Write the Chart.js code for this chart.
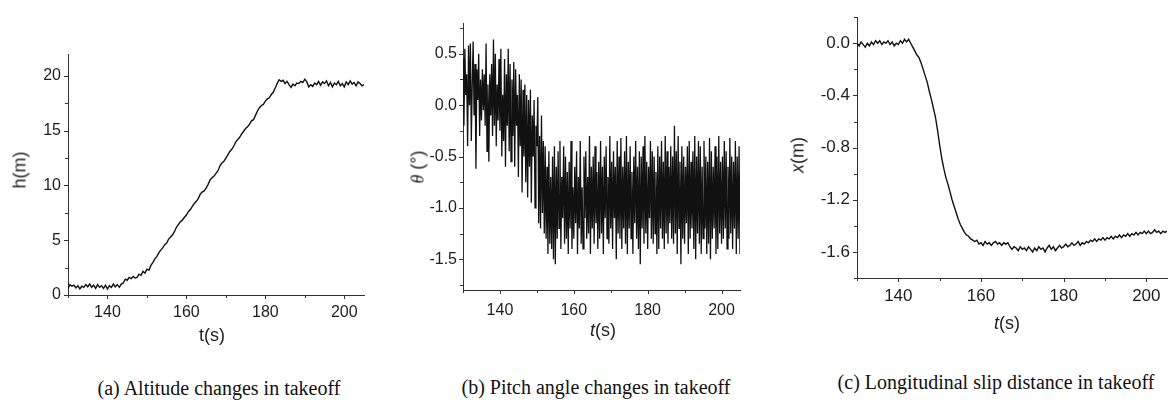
<!DOCTYPE html>
<html>
<head>
<meta charset="utf-8">
<script src="https://cdn.jsdelivr.net/npm/chart.js@4.4.1/dist/chart.umd.min.js"></script>
<style>
  html, body { margin: 0; padding: 0; background: #ffffff; width: 1175px; height: 400px; overflow: hidden; }
  canvas { position: absolute; top: 0; }
  .lbl { position: absolute; white-space: nowrap; color: #1e1e1e; font-family: "Liberation Sans", Arial, sans-serif; font-size: 18px; transform: translate(-50%, -50%); }
  .rot { transform: translate(-50%, -50%) rotate(-90deg); }
  .cap { position: absolute; white-space: nowrap; color: #111; font-family: "Liberation Serif", "Times New Roman", serif; font-size: 20px; transform: translate(-50%, -50%); }
</style>
</head>
<body>
<canvas id="cA" width="380" height="345" style="left:0px"></canvas>
<canvas id="cB" width="390" height="345" style="left:390px"></canvas>
<canvas id="cC" width="395" height="345" style="left:780px"></canvas>

<div class="lbl rot" style="left:20px; top:170px;">h(m)</div>
<div class="lbl" style="left:212px; top:335px;">t(s)</div>
<div class="lbl rot" style="left:418px; top:167px;"><i style="font-family:'Liberation Serif',serif;">θ</i> (°)</div>
<div class="lbl" style="left:603px; top:330px;"><i>t</i>(s)</div>
<div class="lbl rot" style="left:798px; top:155px;"><i>x</i>(m)</div>
<div class="lbl" style="left:1007px; top:323px;"><i>t</i>(s)</div>

<div class="cap" style="left:219px; top:388px;">(a) Altitude changes in takeoff</div>
<div class="cap" style="left:596px; top:387px;">(b) Pitch angle changes in takeoff</div>
<div class="cap" style="left:996px; top:382px;">(c) Longitudinal slip distance in takeoff</div>

<script>
// ---------- data ----------
const timeAC = [130,130.5,131,131.5,132,132.5,133,133.5,134,134.5,135,135.5,136,136.5,137,137.5,138,138.5,139,139.5,140,140.5,141,141.5,142,142.5,143,143.5,144,144.5,145,145.5,146,146.5,147,147.5,148,148.5,149,149.5,150,150.5,151,151.5,152,152.5,153,153.5,154,154.5,155,155.5,156,156.5,157,157.5,158,158.5,159,159.5,160,160.5,161,161.5,162,162.5,163,163.5,164,164.5,165,165.5,166,166.5,167,167.5,168,168.5,169,169.5,170,170.5,171,171.5,172,172.5,173,173.5,174,174.5,175,175.5,176,176.5,177,177.5,178,178.5,179,179.5,180,180.5,181,181.5,182,182.5,183,183.5,184,184.5,185,185.5,186,186.5,187,187.5,188,188.5,189,189.5,190,190.5,191,191.5,192,192.5,193,193.5,194,194.5,195,195.5,196,196.5,197,197.5,198,198.5,199,199.5,200,200.5,201,201.5,202,202.5,203,203.5,204,204.5,205];

const altitude = [
  0.6,0.95,0.8,0.9,0.65,0.85,0.55,0.8,0.7,0.95,
  0.75,1.0,0.7,0.9,0.6,0.95,0.7,0.85,0.6,0.9,
  0.55,0.85,0.7,1.0,0.75,0.95,0.7,1.0,1.1,1.45,
  1.35,1.6,1.5,1.7,1.55,1.6,1.9,1.8,2.15,2.0,
  2.35,2.25,2.7,2.95,3.3,3.5,3.85,4.1,4.3,4.6,
  4.75,5.1,5.3,5.5,5.8,6.2,6.45,6.7,6.85,7.1,
  7.3,7.6,7.8,8.1,8.35,8.55,8.8,9.2,9.4,9.5,
  9.75,10.1,10.5,10.7,10.85,11.1,11.35,11.8,12.05,12.2,
  12.5,12.8,13.1,13.3,13.6,13.95,14.2,14.4,14.7,14.95,
  15.2,15.35,15.6,15.9,16.0,16.4,16.8,17.1,17.3,17.4,
  17.7,17.9,18.0,18.3,18.5,18.9,19.3,19.65,19.5,19.6,
  19.3,19.5,19.2,18.95,19.25,19.1,19.35,19.3,19.5,19.4,
  19.7,19.45,19.0,19.2,19.05,19.35,19.2,19.5,19.15,19.45,
  19.3,19.55,19.1,19.4,19.0,19.35,19.2,19.5,19.1,19.3,
  19.0,19.45,19.2,19.55,19.25,19.4,19.1,19.45,19.3,19.1,
  19.2];

const slip = [
  0.0,-0.02,0.01,-0.01,-0.03,0.0,-0.02,0.01,-0.01,0.02,
  0.0,0.02,-0.01,0.01,0.0,0.02,-0.01,0.01,-0.02,0.0,
  -0.01,0.02,0.0,0.03,0.01,0.03,0.0,-0.03,-0.06,-0.09,
  -0.11,-0.15,-0.2,-0.25,-0.3,-0.37,-0.43,-0.5,-0.57,-0.67,
  -0.78,-0.88,-0.96,-1.03,-1.08,-1.14,-1.2,-1.25,-1.3,-1.35,
  -1.39,-1.42,-1.45,-1.47,-1.48,-1.5,-1.51,-1.52,-1.51,-1.54,
  -1.53,-1.55,-1.52,-1.54,-1.53,-1.55,-1.53,-1.52,-1.54,-1.53,
  -1.55,-1.53,-1.54,-1.53,-1.56,-1.58,-1.56,-1.57,-1.59,-1.56,
  -1.58,-1.57,-1.59,-1.56,-1.58,-1.6,-1.57,-1.59,-1.56,-1.58,
  -1.57,-1.6,-1.57,-1.55,-1.58,-1.56,-1.59,-1.57,-1.55,-1.57,
  -1.56,-1.54,-1.56,-1.55,-1.53,-1.55,-1.54,-1.52,-1.55,-1.53,
  -1.54,-1.52,-1.53,-1.51,-1.52,-1.5,-1.52,-1.5,-1.51,-1.49,
  -1.51,-1.49,-1.5,-1.48,-1.5,-1.48,-1.49,-1.47,-1.49,-1.47,
  -1.48,-1.46,-1.48,-1.46,-1.47,-1.45,-1.47,-1.45,-1.46,-1.44,
  -1.46,-1.44,-1.46,-1.45,-1.43,-1.45,-1.44,-1.46,-1.44,-1.45,
  -1.44];

const timeB = [130,130.25,130.5,130.75,131,131.25,131.5,131.75,132,132.25,132.5,132.75,133,133.25,133.5,133.75,134,134.25,134.5,134.75,135,135.25,135.5,135.75,136,136.25,136.5,136.75,137,137.25,137.5,137.75,138,138.25,138.5,138.75,139,139.25,139.5,139.75,140,140.25,140.5,140.75,141,141.25,141.5,141.75,142,142.25,142.5,142.75,143,143.25,143.5,143.75,144,144.25,144.5,144.75,145,145.25,145.5,145.75,146,146.25,146.5,146.75,147,147.25,147.5,147.75,148,148.25,148.5,148.75,149,149.25,149.5,149.75,150,150.25,150.5,150.75,151,151.25,151.5,151.75,152,152.25,152.5,152.75,153,153.25,153.5,153.75,154,154.25,154.5,154.75,155,155.25,155.5,155.75,156,156.25,156.5,156.75,157,157.25,157.5,157.75,158,158.25,158.5,158.75,159,159.25,159.5,159.75,160,160.25,160.5,160.75,161,161.25,161.5,161.75,162,162.25,162.5,162.75,163,163.25,163.5,163.75,164,164.25,164.5,164.75,165,165.25,165.5,165.75,166,166.25,166.5,166.75,167,167.25,167.5,167.75,168,168.25,168.5,168.75,169,169.25,169.5,169.75,170,170.25,170.5,170.75,171,171.25,171.5,171.75,172,172.25,172.5,172.75,173,173.25,173.5,173.75,174,174.25,174.5,174.75,175,175.25,175.5,175.75,176,176.25,176.5,176.75,177,177.25,177.5,177.75,178,178.25,178.5,178.75,179,179.25,179.5,179.75,180,180.25,180.5,180.75,181,181.25,181.5,181.75,182,182.25,182.5,182.75,183,183.25,183.5,183.75,184,184.25,184.5,184.75,185,185.25,185.5,185.75,186,186.25,186.5,186.75,187,187.25,187.5,187.75,188,188.25,188.5,188.75,189,189.25,189.5,189.75,190,190.25,190.5,190.75,191,191.25,191.5,191.75,192,192.25,192.5,192.75,193,193.25,193.5,193.75,194,194.25,194.5,194.75,195,195.25,195.5,195.75,196,196.25,196.5,196.75,197,197.25,197.5,197.75,198,198.25,198.5,198.75,199,199.25,199.5,199.75,200,200.25,200.5,200.75,201,201.25,201.5,201.75,202,202.25,202.5,202.75,203,203.25,203.5,203.75,204,204.25,204.5,204.75,205];

const pitch = [
  0.45,-0.2,0.55,0.1, 0.3,-0.4,0.58,0.0, 0.6,-0.35,0.2,0.62, -0.1,0.4,-0.62,0.35, 0.05,0.5,-0.3,0.25,
  -0.15,0.35,-0.05,0.3, -0.2,0.6,-0.45,0.2, -0.55,0.3,-0.1,0.4, -0.3,0.64,-0.2,0.5, -0.4,0.2,-0.15,0.45,
  -0.25,0.55,-0.5,0.1, -0.35,0.45,-0.6,0.3, -0.2,0.55,-0.45,0.4, -0.55,0.25,-0.3,0.42, -0.6,0.35,-0.2,0.1,
  -0.7,0.3,-0.4,0.25, -0.85,0.15,-0.5,0.2, -0.75,0.1,-0.9,0.05, -0.6,0.15,-0.95,-0.1, -0.5,0.05,-1.0,-0.2,
  -0.4,0.08,-1.15,-0.3, -1.2,-0.1,-1.05,-0.35, -1.25,-0.4,-1.3,-0.6, -1.45,-0.45,-1.35,-0.7, -1.4,-0.5,-1.5,-0.4,
  -1.55,-0.6,-1.3,-0.45, -1.2,-0.35,-1.4,-0.7, -1.1,-0.4,-1.35,-0.5, -1.3,-0.65,-1.45,-0.55, -1.2,-0.35,-1.4,-0.8,
  -1.3,-0.6,-1.15,-0.45, -1.45,-0.7,-1.2,-0.35, -1.35,-0.8,-1.4,-0.5, -1.1,-0.45,-1.3,-0.7, -1.25,-0.3,-1.45,-0.6,
  -1.2,-0.5,-1.35,-0.4, -1.15,-0.65,-1.4,-0.55, -1.3,-0.35,-1.25,-0.6, -1.45,-0.5,-1.1,-0.4, -1.3,-0.7,-1.35,-0.3,
  -1.2,-0.55,-1.4,-0.45, -1.1,-0.6,-1.5,-0.35, -1.25,-0.5,-1.3,-0.32, -1.4,-0.6,-1.2,-0.45, -1.35,-0.3,-1.45,-0.55,
  -1.2,-0.4,-1.3,-0.65, -1.45,-0.5,-1.15,-0.35, -1.3,-0.6,-1.4,-0.45, -1.55,-0.5,-1.2,-0.4, -1.35,-0.3,-1.25,-0.55,
  -1.4,-0.6,-1.1,-0.35, -1.3,-0.45,-1.35,-0.5, -1.25,-0.65,-1.45,-0.4, -1.4,-0.5,-1.2,-0.35, -1.3,-0.55,-1.4,-0.3,
  -1.25,-0.45,-1.35,-0.6, -1.15,-0.4,-1.3,-0.5, -1.35,-0.2,-1.25,-0.45, -1.45,-0.3,-1.2,-0.55, -1.55,-0.4,-1.3,-0.5,
  -1.35,-0.6,-1.15,-0.4, -1.45,-0.35,-1.3,-0.55, -1.2,-0.45,-1.4,-0.3, -1.5,-0.5,-1.25,-0.35, -1.35,-0.4,-1.45,-0.6,
  -1.3,-0.35,-1.2,-0.5, -1.45,-0.55,-1.35,-0.32, -1.5,-0.45,-1.3,-0.6, -1.2,-0.4,-1.45,-0.5, -1.4,-0.3,-1.25,-0.55,
  -1.35,-0.5,-1.3,-0.35, -1.2,-0.45,-1.4,-0.6, -1.3,-0.32,-1.25,-0.5, -1.4,-0.55,-1.2,-0.35, -1.45,-0.5,-1.3,-0.4,
  -1.45];

const xTickLabels = [140, 160, 180, 200];
const yTickLabelsA = [0, 5, 10, 15, 20];
const yTickLabelsB = [-1.5, -1.0, -0.5, 0.0, 0.5];
const yTickLabelsC = [-1.6, -1.2, -0.8, -0.4, 0.0];

// ---------- styling ----------
const LINE = '#111111';
const AXIS = '#333333';
const TEXT = '#1e1e1e';
const FONT = '"Liberation Sans", Arial, sans-serif';

const outTicks = {
  id: 'outTicks',
  afterDraw(chart, args, opts) {
    const ctx = chart.ctx;
    const xs = chart.scales.x, ys = chart.scales.y;
    ctx.save();
    ctx.strokeStyle = AXIS;
    ctx.lineWidth = 1;
    ctx.beginPath();
    xs.ticks.forEach(t => {
      const p = Math.round(xs.getPixelForValue(t.value)) + 0.5;
      const len = t.label === '' ? opts.minor : opts.major;
      ctx.moveTo(p, xs.top);
      ctx.lineTo(p, xs.top + len);
    });
    ys.ticks.forEach(t => {
      const p = Math.round(ys.getPixelForValue(t.value)) + 0.5;
      const len = t.label === '' ? opts.minor : opts.major;
      ctx.moveTo(ys.right, p);
      ctx.lineTo(ys.right - len, p);
    });
    ctx.stroke();
    ctx.restore();
  }
};

function matchLabel(list, v, digits) {
  const hit = list.find(l => Math.abs(l - v) < 1e-6);
  return hit === undefined ? '' : hit.toFixed(digits);
}

function makeChart(id, times, values, o) {
  const pts = times.map((t, i) => ({ x: t, y: values[i] }));
  return new Chart(document.getElementById(id), {
    type: 'line',
    data: { datasets: [{ data: pts, borderColor: LINE, borderWidth: o.lw, pointRadius: 0, tension: 0, fill: false, borderJoinStyle: 'miter' }] },
    options: {
      animation: false, responsive: false, devicePixelRatio: 1, events: [],
      layout: { padding: { top: o.top, right: o.right, left: 0, bottom: 0 } },
      plugins: { legend: { display: false }, tooltip: { enabled: false }, outTicks: { major: 4, minor: 3 } },
      scales: {
        x: {
          type: 'linear', min: 130, max: 205,
          afterFit: s => { s.height = o.xh; },
          ticks: {
            stepSize: 10, autoSkip: false, maxRotation: 0, minRotation: 0, includeBounds: false,
            padding: o.xpad, color: TEXT, font: { family: FONT, size: o.fs },
            callback: v => matchLabel(xTickLabels, v, 0)
          },
          grid: { display: false, drawTicks: false },
          border: { display: true, color: AXIS, width: 1 }
        },
        y: {
          type: 'linear', min: o.ymin, max: o.ymax,
          afterFit: s => { s.width = o.yw; },
          ticks: {
            stepSize: o.ystep, autoSkip: false, includeBounds: false,
            padding: o.ypad, color: TEXT, font: { family: FONT, size: o.fs },
            callback: v => matchLabel(o.ylabels, v, o.digits)
          },
          grid: { display: false, drawTicks: false },
          border: { display: true, color: AXIS, width: 1 }
        }
      }
    },
    plugins: [outTicks]
  });
}

makeChart('cA', timeAC, altitude, { lw: 1.4, top: 54, right: 16, xh: 50, yw: 68, ymin: 0, ymax: 22, ystep: 2.5, ylabels: yTickLabelsA, digits: 0, fs: 16, xpad: 8, ypad: 7 });
makeChart('cB', timeB, pitch, { lw: 1.3, top: 23, right: 40, xh: 55, yw: 73, ymin: -1.8, ymax: 0.8, ystep: 0.25, ylabels: yTickLabelsB, digits: 1, fs: 16, xpad: 11, ypad: 6 });
makeChart('cC', timeAC, slip, { lw: 1.4, top: 9, right: 8, xh: 67, yw: 77, ymin: -1.8, ymax: 0.2, ystep: 0.2, ylabels: yTickLabelsC, digits: 1, fs: 17, xpad: 8, ypad: 7 });
</script>
</body>
</html>
